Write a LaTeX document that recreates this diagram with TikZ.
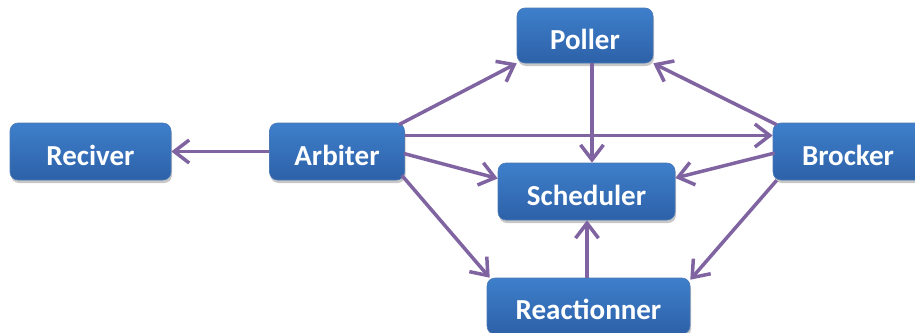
\documentclass[tikz,border=0pt]{standalone}
\usepackage{fontspec}
\setmainfont{Carlito}
\usetikzlibrary{arrows.meta,calc,shadows}
\definecolor{boxtop}{RGB}{62,127,203}
\definecolor{boxbot}{RGB}{45,97,168}
\definecolor{linkcol}{RGB}{128,100,162}
\tikzset{
  box/.style={rectangle, rounded corners=8pt, top color=boxtop, bottom color=boxbot,
    draw=boxbot!85!white, line width=0.6pt, text=white,
    font=\fontsize{29}{34}\selectfont\bfseries, inner sep=0pt,
    text height=27pt, text depth=0pt,
    drop shadow={shadow xshift=1pt, shadow yshift=-3pt, opacity=0.22, fill=black}},
  link/.style={draw=linkcol, line width=3.5pt, -{Straight Barb[length=15pt,width=23pt]}}
}
\begin{document}
\begin{tikzpicture}[x=1pt,y=-1pt]
  \useasboundingbox (0,0) rectangle (915,332);
  \fill[white] (0,0) rectangle (915,332);
  \clip (0,0) rectangle (915,332);

  % components
  \node[box, minimum width=161pt, minimum height=57pt] (reciver) at (90.5,151.5) {Reciver};
  \node[box, minimum width=135pt, minimum height=57pt] (arbiter) at (337,151.5) {Arbiter};
  \node[box, minimum width=136pt, minimum height=55pt] (poller) at (585,35.5) {Poller};
  \node[box, minimum width=177pt, minimum height=57pt] (scheduler) at (586.5,191.5) {Scheduler};
  \node[box, minimum width=203pt, minimum height=56pt] (reactionner) at (588.5,306) {Reactionner};
  \node[box, minimum width=150pt, minimum height=57pt] (brocker) at (848,151.5) {Brocker};

  % links
  \draw[link] (arbiter.west) -- (reciver.east);
  \draw[link] ($(arbiter.north east)+(-6,2)$) -- (poller.south west);
  \draw[link] ($(arbiter.east)+(0,-16)$) -- ($(brocker.west)+(0,-16)$);
  \draw[link] ($(arbiter.east)+(-1,2)$) -- ($(scheduler.west)+(0,-13)$);
  \draw[link] ($(arbiter.south east)+(-3,-5)$) -- ($(reactionner.north west)+(3,0)$);
  \draw[link] ($(poller.south)+(7,0)$) -- ($(scheduler.north)+(5.5,0)$);
  \draw[link] ($(brocker.north west)+(4,2)$) -- (poller.south east);
  \draw[link] ($(brocker.west)+(2,1.5)$) -- ($(scheduler.east)+(0,-13.5)$);
  \draw[link] ($(brocker.south west)+(4,0)$) -- ($(reactionner.north east)+(0,2)$);
  \draw[link] ($(reactionner.north)+(-1.5,0)$) -- ($(scheduler.south)+(0.5,0)$);
\end{tikzpicture}
\end{document}
